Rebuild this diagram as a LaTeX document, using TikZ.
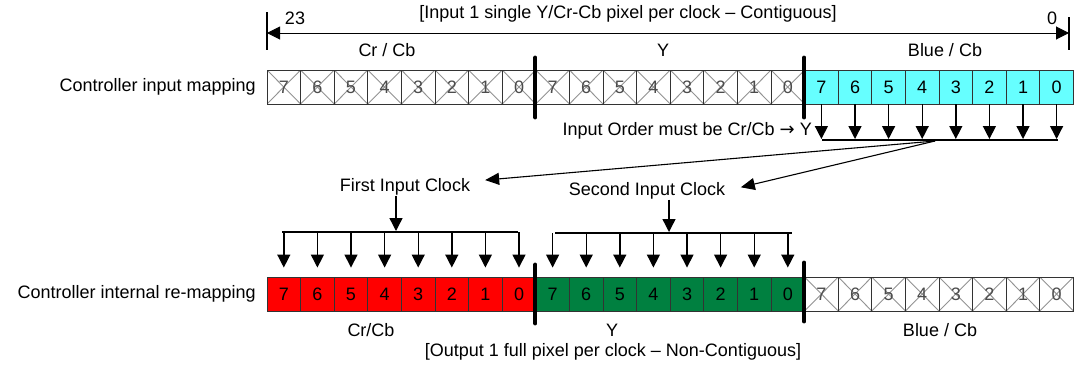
\documentclass[tikz,border=0pt]{standalone}
\usepackage{fontspec}
\setmainfont{Liberation Sans}
\newfontfamily\dejavu{DejaVu Sans}
\usetikzlibrary{arrows.meta,calc}
\definecolor{cyanc}{RGB}{102,255,255}
\definecolor{greenc}{RGB}{0,128,64}
\definecolor{redc}{RGB}{255,0,0}
\begin{document}
\begin{tikzpicture}[x=1pt,y=-1pt,
  font=\fontsize{18}{20}\selectfont,
  lbl/.style={inner sep=0pt},
  cell/.style={draw=black!80, minimum width=33.6pt, minimum height=34pt, inner sep=0pt, line width=0.9pt},
  xcell/.style={cell, fill=white, text=black!70,
    path picture={\draw[gray!85, line width=0.9pt]
      (path picture bounding box.north west) -- (path picture bounding box.south east)
      (path picture bounding box.north east) -- (path picture bounding box.south west);}},
  arr/.style={-{Triangle[width=13pt,length=13pt]}, line width=1.4pt},
  thinarr/.style={-{Triangle[width=12pt,length=14pt]}, line width=1.1pt},
  bar/.style={line width=2.6pt},
  sepline/.style={line width=4pt, line cap=round},
  tick/.style={line width=1.6pt}]
\useasboundingbox (0,0) rectangle (1075,370);

% dimension line
\coordinate (dimL) at (267,33);
\coordinate (dimR) at (1069,33);
\coordinate (tickLt) at (267,12);
\coordinate (tickLb) at (267,50);
\coordinate (tickRt) at (1069,17);
\coordinate (tickRb) at (1069,50);
\draw[tick] (tickLt) -- (tickLb);
\draw[tick] (tickRt) -- (tickRb);
\draw[{Triangle[width=13pt,length=13pt]}-{Triangle[width=13pt,length=13pt]}, line width=1pt] (dimL) -- (dimR);
\node[lbl] (title) at (628,14) {[Input 1 single Y/Cr-Cb pixel per clock – Contiguous]};
\node[lbl] (n23) at (295,18) {23};
\node[lbl] (n0) at (1052,18) {0};

% top section labels
\node[lbl] (tlc) at (387,50) {Cr / Cb};
\node[lbl] (tly) at (663,50) {Y};
\node[lbl] (tlb) at (945,50) {Blue / Cb};
\node[lbl, anchor=east] (inmap) at (256,87) {Controller input mapping};

% top row
\foreach \i in {0,...,23} {
  \pgfmathtruncatemacro{\d}{7-mod(\i,8)}
  \pgfmathsetmacro{\cx}{267+33.6*(\i+0.5)}
  \ifnum\i<16
    \node[xcell] (t\i) at (\cx,87) {\d};
  \else
    \node[cell, fill=cyanc, text=black] (t\i) at (\cx,87) {\d};
  \fi
}
\draw[sepline] ([yshift=12pt]t8.north west) -- ([yshift=-13pt]t8.south west);
\draw[sepline] ([yshift=12pt]t16.north west) -- ([yshift=-13pt]t16.south west);

% top bar and arrows
\coordinate (tbarL) at (822,140);
\coordinate (tbarR) at (1058,140);
\coordinate (tbarM) at (935,141);
\foreach \i in {16,...,23} {
  \draw[arr] (t\i.south) -- ([yshift=1pt]t\i.south |- tbarL);
}
\draw[bar] (tbarL) -- (tbarR);
\node[lbl, anchor=east] (order) at (812,131) {Input Order must be Cr/Cb {\dejavu →} Y};

% clock labels
\node[lbl] (first) at (405,187) {First Input Clock};
\node[lbl] (second) at (647,191) {Second Input Clock};
\draw[thinarr, shorten >=15pt] (tbarM) -- (first);
\draw[thinarr, shorten >=16pt] (tbarM) -- (second.east);

% bottom row
\foreach \i in {0,...,23} {
  \pgfmathtruncatemacro{\d}{7-mod(\i,8)}
  \pgfmathsetmacro{\cx}{267+33.6*(\i+0.5)}
  \ifnum\i<8
    \node[cell, fill=redc, text=black] (b\i) at (\cx,294) {\d};
  \else
    \ifnum\i<16
      \node[cell, fill=greenc, text=black] (b\i) at (\cx,294) {\d};
    \else
      \node[xcell] (b\i) at (\cx,294) {\d};
    \fi
  \fi
}
\draw[sepline] ([yshift=12pt]b8.north west) -- ([yshift=-12pt]b8.south west);
\draw[sepline] ([yshift=14pt]b16.north west) -- ([yshift=-10pt]b16.south west);

% first clock bar
\coordinate (fbarL) at (282,232);
\coordinate (fbarR) at (518,232);
\coordinate (fbarM) at (396,232);
\draw[arr] (first.south -| fbarM) -- ([yshift=1pt]fbarM);
\draw[bar] (fbarL) -- (fbarR);
\foreach \i in {0,...,7} {
  \draw[arr] (b\i.north |- fbarL) -- ([yshift=9pt]b\i.north);
}

% second clock bar
\coordinate (sbarL) at (555,233);
\coordinate (sbarR) at (792,233);
\coordinate (sbarM) at (669,233);
\draw[arr] (second.south -| sbarM) -- ([yshift=1pt]sbarM);
\draw[bar] (sbarL) -- (sbarR);
\foreach \i in {8,...,15} {
  \draw[arr] (b\i.north |- sbarL) -- ([yshift=9pt]b\i.north);
}

% bottom labels
\node[lbl, anchor=east] (intmap) at (256,294) {Controller internal re-mapping};
\node[lbl] (blc) at (371,330) {Cr/Cb};
\node[lbl] (bly) at (612,330) {Y};
\node[lbl] (blb) at (940,330) {Blue / Cb};
\node[lbl] (out) at (613,352) {[Output 1 full pixel per clock – Non-Contiguous]};
\end{tikzpicture}
\end{document}
